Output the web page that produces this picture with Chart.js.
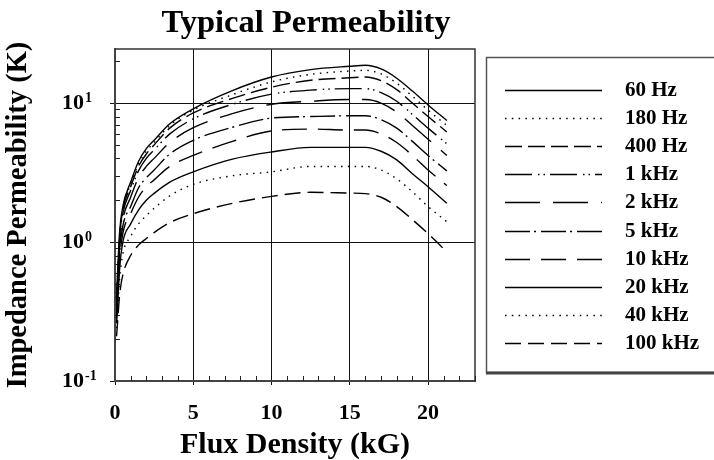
<!DOCTYPE html>
<html>
<head>
<meta charset="utf-8">
<script src="https://cdn.jsdelivr.net/npm/chart.js@4.4.1/dist/chart.umd.min.js"></script>
<style>
  html, body { margin: 0; padding: 0; background: #fff; }
  canvas { display: block; }
</style>
</head>
<body>
<canvas id="myChart" width="714" height="460"></canvas>
<script>
// values
const chartTitle = 'Typical Permeability';
const xTitle = 'Flux Density (kG)';
const yTitle = 'Impedance Permeability (K)';

const fluxKG = [0.1, 0.3, 0.5, 1, 1.5, 2, 2.5, 3.5, 5, 7.5, 10, 12.5, 15, 16, 17, 18, 19, 20, 21.2];

const freqLabels = ['60 Hz', '180 Hz', '400 Hz', '1 kHz', '2 kHz', '5 kHz', '10 kHz', '20 kHz', '40 kHz', '100 kHz'];

const perm60Hz   = [0.42, 1.2, 1.8, 2.7, 3.8, 4.7, 5.4, 7.1, 9.1, 12.3, 15.4, 17.4, 18.4, 18.7, 17.6, 15.1, 12.2, 9.7, 7.5];
const perm180Hz  = [0.40, 1.15, 1.75, 2.6, 3.65, 4.5, 5.2, 6.9, 8.9, 11.5, 14.2, 16.1, 17.0, 17.2, 16.2, 13.9, 11.2, 8.9, 6.9];
const perm400Hz  = [0.38, 1.1, 1.7, 2.5, 3.5, 4.3, 5.0, 6.6, 8.5, 10.8, 13.0, 14.6, 15.2, 15.4, 14.5, 12.5, 10.0, 8.0, 6.2];
const perm1kHz   = [0.35, 1.05, 1.6, 2.35, 3.25, 4.0, 4.6, 6.0, 7.7, 9.8, 11.6, 12.4, 12.7, 12.7, 11.9, 10.3, 8.3, 6.6, 5.1];
const perm2kHz   = [0.32, 0.95, 1.45, 2.1, 2.9, 3.5, 4.0, 5.2, 6.65, 8.4, 9.8, 10.3, 10.6, 10.6, 10.0, 8.6, 6.9, 5.5, 4.2];
const perm5kHz   = [0.30, 0.85, 1.3, 1.8, 2.45, 2.9, 3.3, 4.3, 5.4, 6.7, 7.8, 8.0, 8.1, 8.1, 7.6, 6.6, 5.3, 4.2, 3.25];
const perm10kHz  = [0.28, 0.75, 1.15, 1.6, 2.1, 2.5, 2.8, 3.5, 4.2, 5.3, 6.3, 6.5, 6.4, 6.4, 6.0, 5.2, 4.2, 3.3, 2.55];
const perm20kHz  = [0.26, 0.65, 1.0, 1.35, 1.7, 2.0, 2.24, 2.7, 3.2, 3.95, 4.45, 4.8, 4.8, 4.8, 4.5, 3.9, 3.1, 2.5, 1.9];
const perm40kHz  = [0.24, 0.55, 0.82, 1.1, 1.35, 1.55, 1.75, 2.15, 2.6, 3.0, 3.2, 3.5, 3.5, 3.5, 3.3, 2.85, 2.3, 1.8, 1.4];
const perm100kHz = [0.21, 0.42, 0.58, 0.8, 0.95, 1.06, 1.17, 1.38, 1.6, 1.9, 2.13, 2.28, 2.25, 2.23, 2.1, 1.8, 1.45, 1.15, 0.85];

const xTickValues = [0,1,2,3,4,5,6,7,8,9,10,11,12,13,14,15,16,17,18,19,20,21,22,23];
const xTickLabels = [0, 5, 10, 15, 20];
const yTickValues = [0.1,0.2,0.3,0.4,0.5,0.6,0.7,0.8,0.9,1,2,3,4,5,6,7,8,9,10,20];
const yDecades = [0.1, 1, 10];
const yDecadeExps = ['-1', '0', '1'];

// line styles, one per series
const lineDashes = [[], [1.5,5.3], [17,6], [27,6,1.5,4,1.5,5], [35,13], [25,4,2,5], [25,11], [], [1.5,5.3], [16,7]];

const series = [perm60Hz, perm180Hz, perm400Hz, perm1kHz, perm2kHz, perm5kHz, perm10kHz, perm20kHz, perm40kHz, perm100kHz];
const serif = "'Liberation Serif', 'DejaVu Serif', serif";

const datasets = series.map((vals, i) => ({
  label: freqLabels[i],
  data: vals.map((v, j) => ({x: fluxKG[j], y: v})),
  borderColor: '#000',
  borderWidth: 1.4,
  borderDash: lineDashes[i],
  pointRadius: 0,
  fill: false,
  cubicInterpolationMode: 'monotone'
}));

function isMajorX(v){ return v % 5 === 0; }
function decadeIndex(v){ return yDecades.findIndex(d => Math.abs(d - v) < 1e-9); }

// frame on top/right, inward minor ticks, exponents of the decade labels
const frameTicks = {
  id: 'frameTicks',
  beforeDatasetsDraw(chart){
    const {ctx, chartArea: a, scales: {x, y}} = chart;
    ctx.save();
    ctx.strokeStyle = '#333';
    ctx.lineWidth = 1.5;
    ctx.beginPath();
    ctx.moveTo(a.left, a.top); ctx.lineTo(a.right, a.top); ctx.lineTo(a.right, a.bottom);
    ctx.stroke();
    ctx.strokeStyle = '#222';
    ctx.lineWidth = 1;
    ctx.beginPath();
    x.ticks.forEach(t => {
      if (isMajorX(t.value)) return;
      const px = Math.round(x.getPixelForValue(t.value)) + 0.5;
      ctx.moveTo(px, a.bottom); ctx.lineTo(px, a.bottom - 5);
    });
    y.ticks.forEach(t => {
      if (decadeIndex(t.value) >= 0) return;
      const py = Math.round(y.getPixelForValue(t.value)) + 0.5;
      ctx.moveTo(a.left, py); ctx.lineTo(a.left + 5, py);
    });
    ctx.stroke();
    ctx.fillStyle = '#000';
    ctx.font = 'bold 14px ' + serif;
    ctx.textAlign = 'left';
    ctx.textBaseline = 'alphabetic';
    yDecades.forEach((d, k) => {
      const py = y.getPixelForValue(d);
      ctx.fillText(yDecadeExps[k], 85, py - 1);
    });
    ctx.restore();
  }
};

const titleText = {
  id: 'titleText',
  afterDraw(chart){
    const ctx = chart.ctx;
    ctx.save();
    ctx.fillStyle = '#000';
    ctx.font = 'bold 32.5px ' + serif;
    ctx.textAlign = 'center';
    ctx.textBaseline = 'alphabetic';
    ctx.fillText(chartTitle, 306, 32);
    ctx.restore();
  }
};

const legendBox = {
  id: 'legendBox',
  afterDraw(chart){
    const ctx = chart.ctx;
    ctx.save();
    ctx.strokeStyle = '#555';
    ctx.lineWidth = 1.5;
    ctx.strokeRect(486.5, 57.5, 260, 315);
    ctx.fillStyle = '#444';
    ctx.fillRect(486, 371.5, 260, 3);
    ctx.font = 'bold 21px ' + serif;
    ctx.textAlign = 'left';
    ctx.textBaseline = 'middle';
    chart.data.datasets.forEach((ds, i) => {
      const ly = Math.round(90 + i * 28.1) + 0.5;
      ctx.strokeStyle = '#000';
      ctx.lineWidth = 1.4;
      ctx.setLineDash(ds.borderDash);
      ctx.beginPath();
      ctx.moveTo(505, ly); ctx.lineTo(602, ly);
      ctx.stroke();
      ctx.setLineDash([]);
      ctx.fillStyle = '#000';
      ctx.fillText(ds.label, 625, ly);
    });
    ctx.restore();
  }
};

const config = {
  type: 'line',
  data: { datasets },
  options: {
    responsive: false,
    animation: false,
    layout: { padding: { top: 49, right: 239, bottom: 0, left: 0 } },
    plugins: { legend: { display: false }, tooltip: { enabled: false }, title: { display: false } },
    scales: {
      x: {
        type: 'linear', min: 0, max: 23,
        afterBuildTicks: s => { s.ticks = xTickValues.map(v => ({value: v})); },
        afterFit: s => { s.height = 79; },
        ticks: {
          autoSkip: false, maxRotation: 0, padding: 15, color: '#000',
          font: { family: serif, size: 22, weight: 'bold' },
          callback: v => xTickLabels.includes(v) ? String(v) : ''
        },
        grid: {
          color: c => (c.tick && isMajorX(c.tick.value) && c.tick.value !== 0) ? '#111' : 'rgba(0,0,0,0)',
          tickColor: c => (c.tick && isMajorX(c.tick.value)) ? '#111' : 'rgba(0,0,0,0)',
          lineWidth: 1, tickLength: 4
        },
        border: { color: '#444', width: 2 },
        title: { display: true, text: xTitle, color: '#000', padding: { top: 0, bottom: 0 },
                 font: { family: serif, size: 30, weight: 'bold', lineHeight: 1 } }
      },
      y: {
        type: 'logarithmic', min: 0.1, max: 24.5,
        afterBuildTicks: s => { s.ticks = yTickValues.map(v => ({value: v})); },
        afterFit: s => { s.width = 115; },
        ticks: {
          autoSkip: false, padding: 26, color: '#000',
          font: { family: serif, size: 22, weight: 'bold' },
          callback: v => decadeIndex(v) >= 0 ? '10' : ''
        },
        grid: {
          color: c => (c.tick && decadeIndex(c.tick.value) > 0) ? '#111' : 'rgba(0,0,0,0)',
          tickColor: c => (c.tick && decadeIndex(c.tick.value) >= 0) ? '#111' : 'rgba(0,0,0,0)',
          lineWidth: 1, tickLength: 5
        },
        border: { color: '#444', width: 2 },
        title: { display: true, text: yTitle, color: '#000', padding: { top: 4, bottom: 0 },
                 font: { family: serif, size: 28.5, weight: 'bold', lineHeight: 1 } }
      }
    }
  },
  plugins: [frameTicks, titleText, legendBox]
};

const myChart = new Chart(document.getElementById('myChart'), config);
</script>
</body>
</html>
